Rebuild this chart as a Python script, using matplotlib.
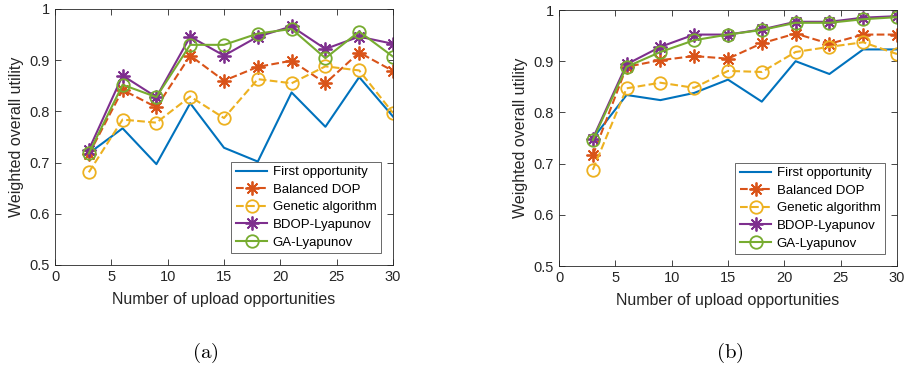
import matplotlib
matplotlib.use("Agg")
import matplotlib.pyplot as plt

x = [3, 6, 9, 12, 15, 18, 21, 24, 27, 30]
labels = ["First opportunity", "Balanced DOP", "Genetic algorithm", "BDOP-Lyapunov", "GA-Lyapunov"]

a_first = [0.718, 0.767, 0.697, 0.816, 0.729, 0.702, 0.837, 0.770, 0.867, 0.790]
a_bdop = [0.716, 0.842, 0.808, 0.909, 0.860, 0.887, 0.899, 0.855, 0.915, 0.879]
a_ga = [0.681, 0.784, 0.778, 0.829, 0.787, 0.863, 0.855, 0.888, 0.880, 0.797]
a_bdopl = [0.725, 0.870, 0.828, 0.946, 0.909, 0.946, 0.966, 0.922, 0.946, 0.932]
a_gal = [0.718, 0.852, 0.828, 0.930, 0.930, 0.952, 0.961, 0.904, 0.956, 0.907]

b_first = [0.749, 0.834, 0.824, 0.838, 0.864, 0.821, 0.900, 0.875, 0.923, 0.923]
b_bdop = [0.716, 0.889, 0.902, 0.910, 0.905, 0.935, 0.954, 0.934, 0.952, 0.952]
b_ga = [0.688, 0.847, 0.858, 0.848, 0.881, 0.879, 0.918, 0.928, 0.937, 0.914]
b_bdopl = [0.749, 0.894, 0.928, 0.952, 0.952, 0.962, 0.977, 0.977, 0.985, 0.988]
b_gal = [0.746, 0.889, 0.918, 0.941, 0.952, 0.961, 0.975, 0.975, 0.982, 0.986]

xticks = [0, 5, 10, 15, 20, 25, 30]
yticks = [0.5, 0.6, 0.7, 0.8, 0.9, 1.0]
ytick_labels = ["0.5", "0.6", "0.7", "0.8", "0.9", "1"]
xlabel = "Number of upload opportunities"
ylabel = "Weighted overall utility"
captions = ["(a)", "(b)"]

colors = ["#0072BD", "#D95319", "#EDB120", "#7E2F8E", "#77AC30"]
asterisk = (8, 2, 0)
styles = [
    dict(linestyle="-", marker=None),
    dict(linestyle="--", marker=asterisk, markersize=10, markeredgewidth=1.3),
    dict(linestyle="--", marker="o", markersize=9, markerfacecolor="none", markeredgewidth=1.3),
    dict(linestyle="-", marker=asterisk, markersize=10, markeredgewidth=1.3),
    dict(linestyle="-", marker="o", markersize=9, markerfacecolor="none", markeredgewidth=1.3),
]

plt.rcParams["font.family"] = ["Liberation Sans", "DejaVu Sans"]
plt.rcParams["mathtext.fontset"] = "cm"

W, H = 905, 367
fig = plt.figure(figsize=(W / 100, H / 100), dpi=100)

panels = [
    ((55, 9, 393, 265), [a_first, a_bdop, a_ga, a_bdopl, a_gal], (205, 353), captions[0]),
    ((559, 10, 897, 266), [b_first, b_bdop, b_ga, b_bdopl, b_gal], (730, 353), captions[1]),
]

for (l, t, r, b), series, cap, cap_text in panels:
    ax = fig.add_axes([l / W, 1 - b / H, (r - l) / W, (b - t) / H])
    for s, lab, c, st in zip(series, labels, colors, styles):
        ax.plot(x, s, color=c, linewidth=1.5, label=lab, **st)
    ax.set_xlim(0, 30)
    ax.set_ylim(0.5, 1.0)
    ax.set_xticks(xticks)
    ax.set_yticks(yticks)
    ax.set_yticklabels(ytick_labels)
    ax.tick_params(direction="in", top=True, right=True, labelsize=10.5, length=4, width=0.6, colors="#262626")
    for sp in ax.spines.values():
        sp.set_linewidth(0.6)
        sp.set_color("#262626")
    ax.set_xlabel(xlabel, fontsize=11.5, color="#262626", labelpad=6)
    ax.set_ylabel(ylabel, fontsize=11.5, color="#262626", labelpad=4)
    leg = ax.legend(loc="lower right", fontsize=9.5, frameon=True, fancybox=False,
                    edgecolor="#262626", handlelength=2.4, borderpad=0.35, labelspacing=0.4,
                    handletextpad=0.4, borderaxespad=0.9)
    leg.get_frame().set_linewidth(0.6)
    fig.text(cap[0] / W, 1 - cap[1] / H, "$" + cap_text.replace("(", "(\\mathrm{").replace(")", "})") + "$",
             fontsize=15, ha="center", va="center")

fig.savefig("out.png", dpi=100)
